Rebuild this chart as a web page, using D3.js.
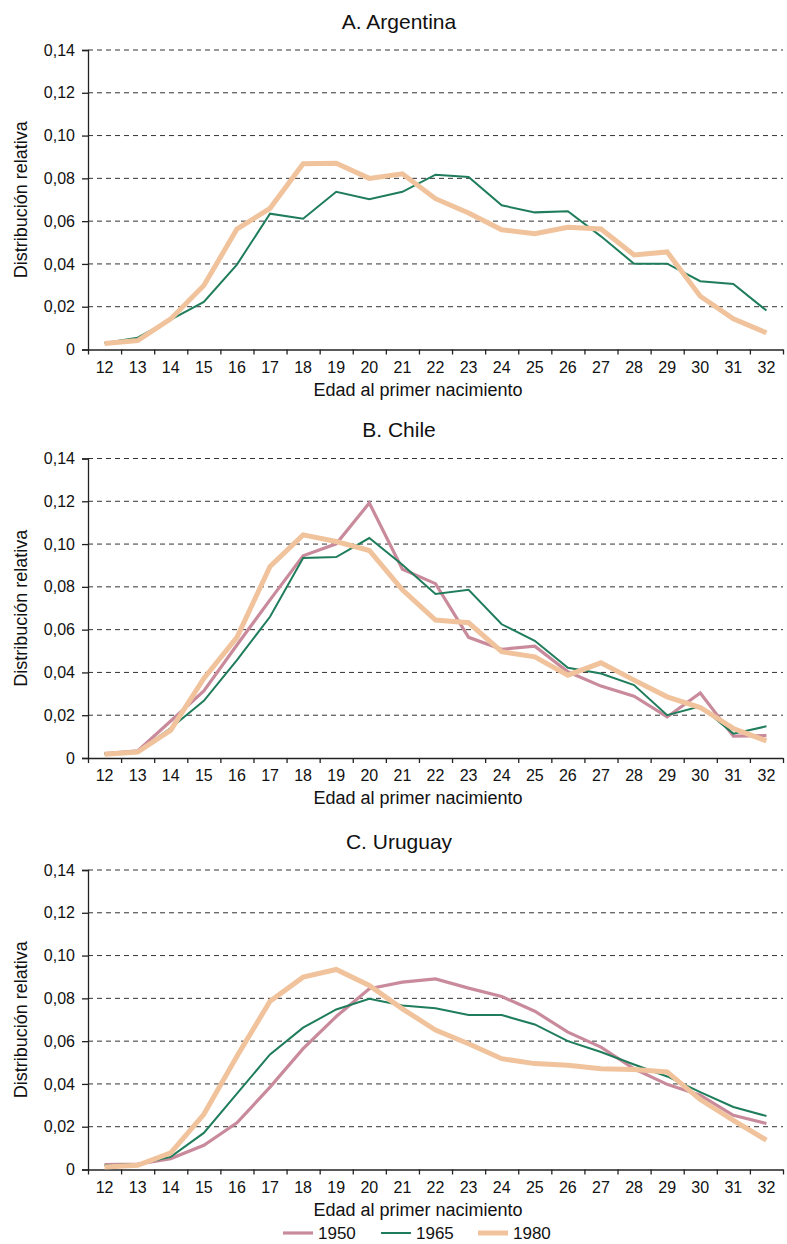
<!DOCTYPE html>
<html>
<head>
<meta charset="utf-8">
<script src="https://cdn.jsdelivr.net/npm/d3@7"></script>
<style>
  html, body { margin: 0; padding: 0; background: #fff; }
  svg { display: block; font-family: "Liberation Sans", Arial, sans-serif; }
</style>
</head>
<body>
<svg id="chart" width="787" height="1244"></svg>
<script>
// Age at first birth (x categories)
const ages = d3.range(12, 33);
const yTicks = [0, 0.02, 0.04, 0.06, 0.08, 0.10, 0.12, 0.14];
const cohorts = ["1950", "1965", "1980"];
const cohortColors = ["#c98b9c", "#1f7d5b", "#f0c39c"];
const cohortWidths = [3.2, 2, 5];

// A. Argentina
const argentina1965 = [0.003, 0.0055, 0.014, 0.0222, 0.0397, 0.0635, 0.0611, 0.0737, 0.0703, 0.0737, 0.0817,
  0.0806, 0.0674, 0.0641, 0.0646, 0.0529, 0.0401, 0.0401, 0.0319, 0.0306, 0.0182];
const argentina1980 = [0.0028, 0.0042, 0.0143, 0.0299, 0.0563, 0.066, 0.0868, 0.0871, 0.08, 0.0821, 0.0705,
  0.0638, 0.056, 0.0541, 0.0571, 0.0563, 0.0442, 0.0456, 0.0249, 0.0143, 0.0078];

// B. Chile
const chile1950 = [0.0021, 0.0033, 0.0173, 0.0314, 0.0528, 0.0739, 0.0945, 0.1001, 0.1192, 0.0882, 0.0815,
  0.0564, 0.0508, 0.0523, 0.0403, 0.0336, 0.0289, 0.0192, 0.0304, 0.0102, 0.0105];
const chile1965 = [0.002, 0.003, 0.014, 0.0267, 0.0458, 0.066, 0.0935, 0.0939, 0.1028, 0.0903, 0.0767,
  0.0786, 0.0625, 0.0548, 0.0422, 0.0395, 0.0341, 0.02, 0.0242, 0.0114, 0.0148];
const chile1980 = [0.0017, 0.0028, 0.013, 0.0372, 0.0564, 0.0895, 0.1043, 0.1012, 0.097, 0.0786, 0.0645,
  0.0632, 0.0497, 0.0473, 0.0387, 0.0445, 0.0364, 0.0286, 0.0236, 0.0138, 0.008];

// C. Uruguay
const uruguay1950 = [0.0023, 0.0025, 0.0051, 0.0113, 0.0218, 0.0385, 0.0565, 0.0715, 0.0845, 0.0876, 0.0891,
  0.0848, 0.0809, 0.074, 0.0642, 0.0572, 0.0471, 0.0398, 0.0347, 0.0253, 0.0215];
const uruguay1965 = [0.002, 0.0025, 0.0059, 0.0171, 0.0355, 0.0538, 0.0663, 0.0748, 0.0798, 0.0767, 0.0754,
  0.0722, 0.0722, 0.0678, 0.06, 0.0549, 0.0491, 0.0435, 0.0362, 0.0292, 0.025];
const uruguay1980 = [0.0012, 0.002, 0.0078, 0.0258, 0.0529, 0.0787, 0.0899, 0.0935, 0.086, 0.0751, 0.0652,
  0.0588, 0.0518, 0.0495, 0.0487, 0.0471, 0.0467, 0.0456, 0.0327, 0.023, 0.0137];

const panels = [
  { title: "A. Argentina", top: 50, series: [null, argentina1965, argentina1980] },
  { title: "B. Chile", top: 458.5, series: [chile1950, chile1965, chile1980] },
  { title: "C. Uruguay", top: 870, series: [uruguay1950, uruguay1965, uruguay1980] }
];

const svg = d3.select("#chart");
const left = 88, right = 783, plotH = 299.5;
const fmt = v => v === 0 ? "0" : d3.format(".2f")(v).replace(".", ",");

// Categories sit in equal bands; ticks mark the band edges
const x = d3.scaleLinear().domain([11.5, 32.5]).range([left, right]);

panels.forEach(p => {
  const y = d3.scaleLinear().domain([0, 0.14]).range([p.top + plotH, p.top]);
  const g = svg.append("g");

  g.append("text")
    .attr("x", 399).attr("y", p.top - 21.5)
    .attr("text-anchor", "middle")
    .attr("font-size", 21).attr("fill", "#111")
    .text(p.title);

  // dashed horizontal grid
  g.append("g").selectAll("line")
    .data(yTicks.filter(t => t > 0))
    .join("line")
    .attr("x1", left).attr("x2", right)
    .attr("y1", d => y(d)).attr("y2", d => y(d))
    .attr("stroke", "#333").attr("stroke-width", 1)
    .attr("stroke-dasharray", "5,4");

  // y axis
  const yAxis = g.append("g")
    .attr("transform", `translate(${left},0)`)
    .call(d3.axisLeft(y).tickValues(yTicks).tickFormat(fmt).tickSize(6).tickPadding(7));
  yAxis.select(".domain").attr("stroke", "#222").attr("stroke-width", 1.3);
  yAxis.selectAll(".tick line").attr("stroke", "#222").attr("stroke-width", 1.3);
  yAxis.selectAll("text").attr("font-size", 16).attr("fill", "#111")
    .attr("font-family", "Liberation Sans, Arial, sans-serif");

  // x axis: band-edge ticks, labels centred in each band
  const xAxis = g.append("g")
    .attr("transform", `translate(0,${p.top + plotH})`)
    .call(d3.axisBottom(x).tickValues(d3.range(11.5, 33, 1)).tickFormat("").tickSizeInner(5).tickSizeOuter(0));
  xAxis.select(".domain").attr("stroke", "#222").attr("stroke-width", 1.3);
  xAxis.selectAll(".tick line").attr("stroke", "#222").attr("stroke-width", 1.3);
  g.append("g").selectAll("text")
    .data(ages)
    .join("text")
    .attr("x", d => x(d)).attr("y", p.top + plotH + 23)
    .attr("text-anchor", "middle")
    .attr("font-size", 16).attr("fill", "#111")
    .text(d => d);

  g.append("text")
    .attr("x", 418).attr("y", p.top + plotH + 46)
    .attr("text-anchor", "middle")
    .attr("font-size", 18).attr("fill", "#111")
    .text("Edad al primer nacimiento");

  g.append("text")
    .attr("transform", `translate(27,${p.top + plotH / 2}) rotate(-90)`)
    .attr("text-anchor", "middle")
    .attr("font-size", 18).attr("fill", "#111")
    .text("Distribución relativa");

  const line = d3.line().x((d, i) => x(ages[i])).y(d => y(d));
  p.series.forEach((s, k) => {
    if (!s) return;
    g.append("path")
      .datum(s)
      .attr("d", line)
      .attr("fill", "none")
      .attr("stroke", cohortColors[k])
      .attr("stroke-width", cohortWidths[k])
      .attr("stroke-linejoin", "miter");
  });
});

// legend
const legendX = [283, 381, 478];
const lg = svg.append("g");
cohorts.forEach((c, k) => {
  lg.append("line")
    .attr("x1", legendX[k]).attr("x2", legendX[k] + 30)
    .attr("y1", 1233).attr("y2", 1233)
    .attr("stroke", cohortColors[k]).attr("stroke-width", cohortWidths[k]);
  lg.append("text")
    .attr("x", legendX[k] + 35).attr("y", 1238.5)
    .attr("font-size", 17).attr("fill", "#111")
    .text(c);
});
</script>
</body>
</html>
